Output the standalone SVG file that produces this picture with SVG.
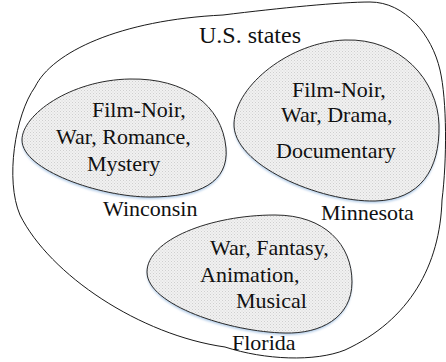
<svg xmlns="http://www.w3.org/2000/svg" width="446" height="362" viewBox="0 0 446 362">
  <style>
    .outer { fill: #ffffff; stroke: #1a1a1a; stroke-width: 1; }
    .blob { fill: url(#dots); stroke: #2a2a2a; stroke-width: 1; }
    .glow { fill: #b4cde8; stroke: none; filter: url(#soft); }
  </style>
  <defs>
    <pattern id="dots" width="3" height="3" patternUnits="userSpaceOnUse">
      <rect width="3" height="3" fill="#f1f1f1"/>
      <rect x="0" y="0" width="1" height="1" fill="#cfcfcf"/>
      <rect x="1.5" y="1.5" width="1" height="1" fill="#d6d6d6"/>
    </pattern>
    <filter id="soft" x="-10%" y="-10%" width="120%" height="130%">
      <feGaussianBlur stdDeviation="1.3"/>
    </filter>
    <path id="wi" d="M 22,140 C 22,115 70,80 130,79 C 185,78 222,105 226,148 C 229,182 200,197 150,197 C 100,197 22,170 22,140 Z"/>
    <path id="mn" d="M 234,123 C 236,85 290,42 345,40 C 400,38 438,80 439,125 C 440,170 420,200 375,201 C 320,202 232,165 234,123 Z"/>
    <path id="fl" d="M 147,272 C 147,240 210,215 275,215 C 325,215 352,245 352,282 C 352,318 320,334 285,333 C 230,332 147,305 147,272 Z"/>
  </defs>

  <g id="us-states">
    <path class="outer" d="M 370,2 C 405,2 432,35 440,70 C 447,100 447,160 442,200 C 440,265 410,320 345,350 C 315,362 265,360 225,347 C 140,335 50,275 20,215 C 5,180 15,115 35,87 C 52,52 120,20 223,15 C 280,8 340,2 370,2 Z"/>
    <text x="199" y="43" font-family="Liberation Serif" font-size="24" fill="#111">U.S. states</text>
  </g>

  <g id="wisconsin" font-family="Liberation Serif" font-size="22" fill="#111">
    <use href="#wi" class="glow" transform="translate(0,2)"/>
    <use href="#wi" class="blob"/>
    <text x="92" y="117">Film-Noir,</text>
    <text x="56" y="144">War, Romance,</text>
    <text x="87" y="171">Mystery</text>
    <text x="103" y="216">Winconsin</text>
  </g>

  <g id="minnesota" font-family="Liberation Serif" font-size="22" fill="#111">
    <use href="#mn" class="glow" transform="translate(0,2)"/>
    <use href="#mn" class="blob"/>
    <text x="292" y="97">Film-Noir,</text>
    <text x="281" y="122">War, Drama,</text>
    <text x="276" y="158">Documentary</text>
    <text x="321" y="220">Minnesota</text>
  </g>

  <g id="florida" font-family="Liberation Serif" font-size="22" fill="#111">
    <use href="#fl" class="glow" transform="translate(0,2)"/>
    <use href="#fl" class="blob"/>
    <text x="210" y="255">War, Fantasy,</text>
    <text x="200" y="282">Animation,</text>
    <text x="236" y="308">Musical</text>
    <text x="232" y="350">Florida</text>
  </g>

  <g id="connectors"/>
</svg>
